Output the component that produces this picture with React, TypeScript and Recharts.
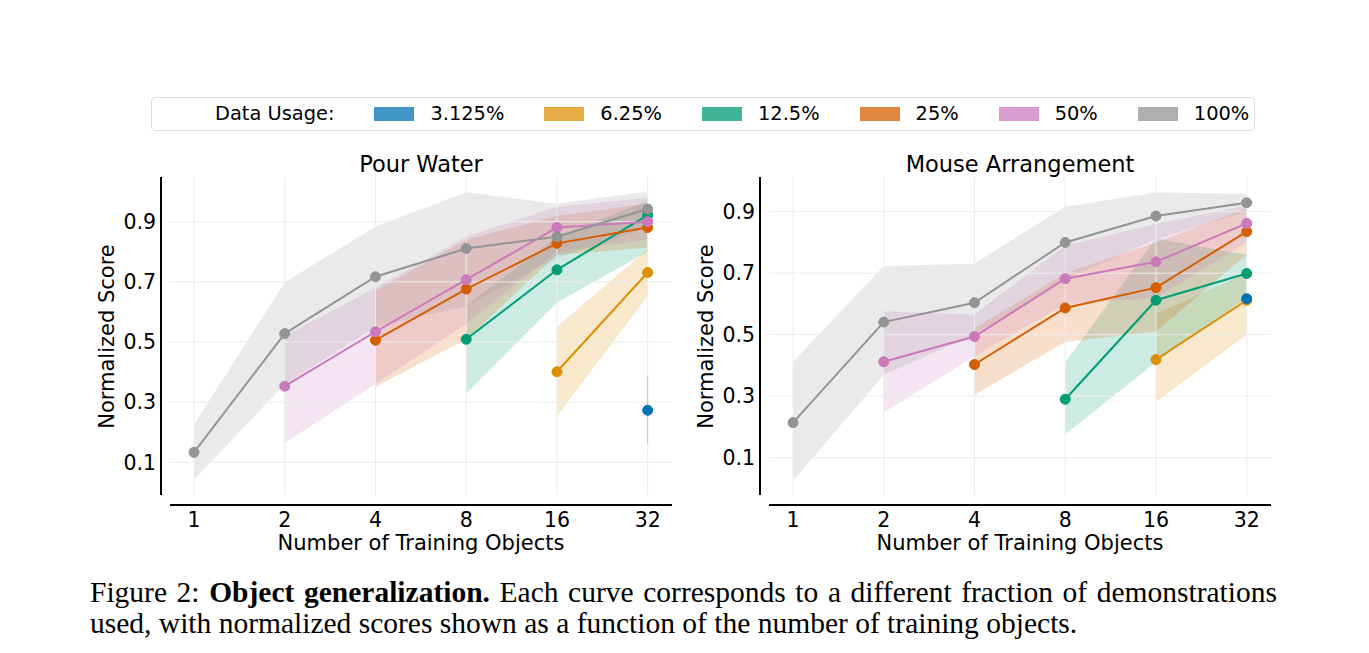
import React from 'react';
import { ComposedChart, Line, Area, XAxis, YAxis, ReferenceLine } from 'recharts';

const OBJECT_COUNTS = ['1', '2', '4', '8', '16', '32'];
const USAGE_LABELS = ['3.125%', '6.25%', '12.5%', '25%', '50%', '100%'];
const SCORE_TICKS = [0.1, 0.3, 0.5, 0.7, 0.9];

type Row = (number | null)[];

// rows follow USAGE_LABELS, columns follow OBJECT_COUNTS
const POUR_MEAN: Row[] = [
  [null, null, null, null, null, 0.273],
  [null, null, null, null, 0.401, 0.731],
  [null, null, null, 0.509, 0.74, 0.922],
  [null, null, 0.506, 0.676, 0.828, 0.881],
  [null, 0.353, 0.534, 0.707, 0.881, 0.9],
  [0.133, 0.528, 0.717, 0.811, 0.85, 0.942],
];
const POUR_LOW: Row[] = [
  [null, null, null, null, null, 0.159],
  [null, null, null, null, 0.253, 0.653],
  [null, null, null, 0.329, 0.631, 0.8],
  [null, null, 0.351, 0.509, 0.79, 0.813],
  [null, 0.164, 0.36, 0.56, 0.8, 0.84],
  [0.042, 0.36, 0.55, 0.62, 0.78, 0.88],
];
const POUR_HIGH: Row[] = [
  [null, null, null, null, null, 0.389],
  [null, null, null, null, 0.55, 0.809],
  [null, null, null, 0.62, 0.85, 0.97],
  [null, null, 0.67, 0.84, 0.92, 0.96],
  [null, 0.52, 0.68, 0.85, 0.95, 0.98],
  [0.226, 0.698, 0.884, 0.998, 0.96, 1.0],
];

const MOUSE_MEAN: Row[] = [
  [null, null, null, null, null, 0.617],
  [null, null, null, null, 0.419, 0.612],
  [null, null, null, 0.29, 0.612, 0.699],
  [null, null, 0.403, 0.587, 0.653, 0.835],
  [null, 0.412, 0.494, 0.682, 0.737, 0.862],
  [0.214, 0.541, 0.604, 0.8, 0.886, 0.929],
];
const MOUSE_LOW: Row[] = [
  [null, null, null, null, null, 0.617],
  [null, null, null, null, 0.282, 0.5],
  [null, null, null, 0.176, 0.41, 0.62],
  [null, null, 0.305, 0.476, 0.51, 0.76],
  [null, 0.247, 0.43, 0.6, 0.62, 0.8],
  [0.024, 0.37, 0.5, 0.68, 0.81, 0.9],
];
const MOUSE_HIGH: Row[] = [
  [null, null, null, null, null, 0.617],
  [null, null, null, null, 0.568, 0.7],
  [null, null, null, 0.41, 0.813, 0.76],
  [null, null, 0.52, 0.7, 0.8, 0.91],
  [null, 0.576, 0.566, 0.79, 0.86, 0.92],
  [0.412, 0.723, 0.731, 0.916, 0.962, 0.958],
];

const SERIES_COLORS = ['#0173b2', '#de8f05', '#029e73', '#d55e00', '#cc78bc', '#949494'];
const FONT = '"DejaVu Sans", sans-serif';

// x positions are tick indices (log2 of the object count)
const X_DOMAIN: [number, number] = [-0.3637, 5.268];
const X_SPINE_START = -0.264;

interface PanelProps {
  title: string;
  mean: Row[];
  low: Row[];
  high: Row[];
  yDomain: [number, number];
  ySpineBottom: number;
  left: number;
}

function buildSeries(mean: Row[], low: Row[], high: Row[]) {
  return mean.map((row, i) =>
    row
      .map((y, j) => ({ x: j, y, band: [low[i][j], high[i][j]] as [number, number] }))
      .filter((p) => p.y !== null)
  );
}

function Panel({ title, mean, low, high, yDomain, ySpineBottom, left }: PanelProps) {
  const series = buildSeries(mean, low, high);
  // draw 3.125% last, it sits on top of the other markers
  const order = [1, 2, 3, 4, 5, 0];
  const tickStyle = { fill: '#000', fontSize: 20.5, fontFamily: FONT };

  return (
    <div style={{ position: 'absolute', left, top: 0, width: 700, height: 600 }}>
      <ComposedChart width={700} height={600} margin={{ top: 177, right: 28, bottom: 55, left: 101 }}>
        <XAxis
          type="number"
          dataKey="x"
          domain={X_DOMAIN}
          ticks={[0, 1, 2, 3, 4, 5]}
          tickFormatter={(v) => OBJECT_COUNTS[v]}
          allowDataOverflow
          axisLine={false}
          tickLine={false}
          tickSize={0}
          tickMargin={7}
          height={40}
          tick={tickStyle}
        />
        <YAxis
          type="number"
          domain={yDomain}
          ticks={SCORE_TICKS}
          tickFormatter={(v) => Number(v).toFixed(1)}
          allowDataOverflow
          axisLine={false}
          tickLine={false}
          tickSize={0}
          tickMargin={5}
          width={60}
          tick={tickStyle}
        />
        {SCORE_TICKS.map((t) => (
          <ReferenceLine
            key={'h' + t}
            segment={[{ x: X_SPINE_START, y: t }, { x: X_DOMAIN[1], y: t }]}
            stroke="#ececec"
            strokeWidth={1}
            ifOverflow="visible"
          />
        ))}
        {OBJECT_COUNTS.map((_, j) => (
          <ReferenceLine
            key={'v' + j}
            segment={[{ x: j, y: ySpineBottom }, { x: j, y: yDomain[1] }]}
            stroke="#ececec"
            strokeWidth={1}
            ifOverflow="visible"
          />
        ))}
        {order.map((i) =>
          series[i].length > 1 ? (
            <Area
              key={'band' + i}
              data={series[i]}
              dataKey="band"
              type="linear"
              stroke="none"
              fill={SERIES_COLORS[i]}
              fillOpacity={0.2}
              dot={false}
              activeDot={false}
              isAnimationActive={false}
            />
          ) : (
            <ReferenceLine
              key={'band' + i}
              segment={[
                { x: series[i][0].x, y: series[i][0].band[0] },
                { x: series[i][0].x, y: series[i][0].band[1] },
              ]}
              stroke={SERIES_COLORS[i]}
              strokeOpacity={0.3}
              strokeWidth={1}
              ifOverflow="visible"
            />
          )
        )}
        {order.map((i) => (
          <Line
            key={'line' + i}
            data={series[i]}
            dataKey="y"
            type="linear"
            stroke={SERIES_COLORS[i]}
            strokeWidth={2}
            dot={{ r: 5, fill: SERIES_COLORS[i], stroke: SERIES_COLORS[i], strokeWidth: 1 }}
            activeDot={false}
            isAnimationActive={false}
          />
        ))}
        <ReferenceLine
          segment={[{ x: X_DOMAIN[0], y: ySpineBottom }, { x: X_DOMAIN[0], y: yDomain[1] }]}
          stroke="#000"
          strokeWidth={2}
          ifOverflow="visible"
        />
        <ReferenceLine
          segment={[{ x: X_SPINE_START, y: yDomain[0] }, { x: X_DOMAIN[1], y: yDomain[0] }]}
          stroke="#000"
          strokeWidth={2}
          ifOverflow="visible"
        />
      </ComposedChart>
      <div
        style={{
          position: 'absolute', left: 221, top: 153, width: 400, textAlign: 'center',
          fontSize: 22.5, lineHeight: 1, fontFamily: FONT, whiteSpace: 'nowrap',
        }}
      >
        {title}
      </div>
      <div
        style={{
          position: 'absolute', left: 221, top: 533, width: 400, textAlign: 'center',
          fontSize: 21, lineHeight: 1, fontFamily: FONT, whiteSpace: 'nowrap',
        }}
      >
        Number of Training Objects
      </div>
      <div
        style={{
          position: 'absolute', left: 107 - 150, top: 336 - 10.5, width: 300, textAlign: 'center',
          fontSize: 21, lineHeight: 1, fontFamily: FONT, whiteSpace: 'nowrap',
          transform: 'rotate(-90deg)',
        }}
      >
        Normalized Score
      </div>
    </div>
  );
}

function UsageLegend() {
  return (
    <div
      style={{
        position: 'absolute', left: 151, top: 97, width: 1104, height: 34,
        border: '1px solid #dcdcdc', borderRadius: 4, boxSizing: 'border-box',
        display: 'flex', alignItems: 'center', paddingLeft: 63,
        fontFamily: FONT, fontSize: 19.4, whiteSpace: 'nowrap',
      }}
    >
      <span style={{ marginRight: 40, lineHeight: 1 }}>Data Usage:</span>
      {USAGE_LABELS.map((label, i) => (
        <span key={label} style={{ display: 'flex', alignItems: 'center', marginRight: 40 }}>
          <span
            style={{
              display: 'inline-block', width: 40, height: 13.5, marginRight: 16,
              background: SERIES_COLORS[i], opacity: 0.75,
            }}
          />
          <span style={{ lineHeight: 1 }}>{label}</span>
        </span>
      ))}
    </div>
  );
}

export default function App() {
  const captionFont = '"Liberation Serif", "Times New Roman", serif';
  return (
    <div style={{ position: 'absolute', left: 0, top: 0, width: 1369, height: 653, background: '#fff', overflow: 'hidden' }}>
      <UsageLegend />
      <Panel
        title="Pour Water"
        mean={POUR_MEAN}
        low={POUR_LOW}
        high={POUR_HIGH}
        yDomain={[-0.042, 1.0486]}
        ySpineBottom={-0.009}
        left={0}
      />
      <Panel
        title="Mouse Arrangement"
        mean={MOUSE_MEAN}
        low={MOUSE_LOW}
        high={MOUSE_HIGH}
        yDomain={[-0.0538, 1.0128]}
        ySpineBottom={-0.0216}
        left={599}
      />
      <div
        style={{
          position: 'absolute', left: 90, top: 578, width: 1187, fontFamily: captionFont,
          fontSize: 29.5, lineHeight: 1, textAlign: 'justify', textAlignLast: 'justify', whiteSpace: 'nowrap',
        }}
      >
        Figure 2: <b>Object generalization.</b> Each curve corresponds to a different fraction of demonstrations
      </div>
      <div
        style={{
          position: 'absolute', left: 90, top: 609, fontFamily: captionFont,
          fontSize: 29.5, lineHeight: 1, whiteSpace: 'nowrap',
        }}
      >
        used, with normalized scores shown as a function of the number of training objects.
      </div>
    </div>
  );
}
